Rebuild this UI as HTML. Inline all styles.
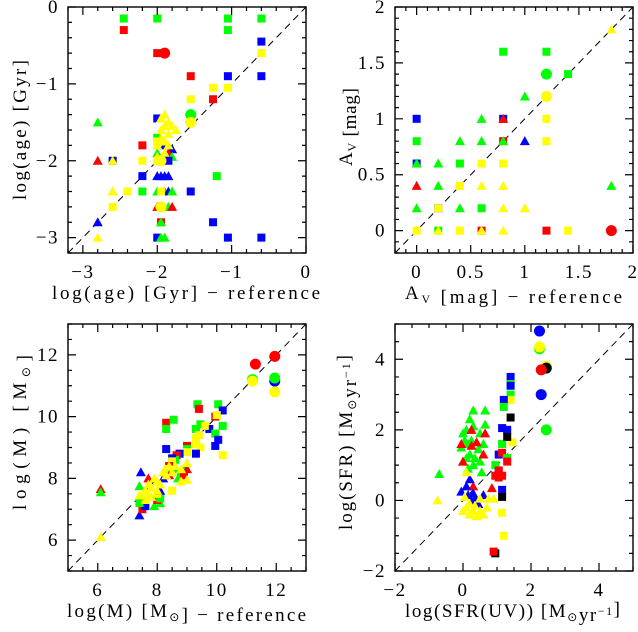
<!DOCTYPE html>
<html><head><meta charset="utf-8"><style>
body{margin:0;background:#fff}
svg text{font-family:"Liberation Serif",serif;fill:#000}
</style></head><body>
<svg id="chart" width="638" height="627" xmlns="http://www.w3.org/2000/svg"></svg>
<script>
// data: [x, y, color, shape]
const agePoints = [
[-2.45,-0.15,'g','s'],[-2.0,-0.15,'g','s'],[-1.05,-0.15,'g','s'],[-0.6,-0.15,'g','s'],
[-2.45,-0.3,'r','s'],[-1.05,-0.3,'g','s'],[-0.6,-0.45,'b','s'],[-0.6,-0.6,'y','s'],
[-2.0,-0.6,'r','s'],[-1.9,-0.6,'r','c'],[-1.55,-0.9,'r','s'],[-1.05,-0.9,'b','s'],[-0.6,-0.9,'b','s'],
[-1.25,-1.05,'y','s'],[-1.05,-1.05,'y','s'],[-1.55,-1.2,'y','s'],[-1.25,-1.2,'r','s'],
[-1.55,-1.4,'g','c'],[-1.55,-1.5,'y','c'],[-2.8,-1.5,'g','t'],
[-2.0,-1.45,'b','s'],[-2.0,-1.7,'g','s'],[-2.2,-1.8,'r','s'],
[-1.95,-1.45,'y','t'],[-1.9,-1.4,'y','t'],[-1.85,-1.5,'y','t'],[-1.9,-1.55,'y','t'],[-1.95,-1.6,'y','t'],[-1.8,-1.55,'y','t'],[-1.75,-1.6,'y','t'],[-1.85,-1.65,'y','t'],[-1.95,-1.7,'y','t'],
[-1.9,-1.8,'b','t'],[-1.8,-1.85,'b','t'],[-1.9,-1.95,'b','t'],[-1.85,-1.9,'r','t'],[-2.0,-1.9,'g','t'],
[-2.0,-1.8,'y','t'],[-1.9,-1.75,'y','t'],[-1.85,-1.8,'y','t'],[-2.0,-1.75,'y','s'],[-1.9,-1.9,'y','t'],[-2.0,-1.95,'y','t'],[-1.8,-1.95,'g','t'],
[-2.8,-2.0,'r','t'],[-2.6,-2.0,'b','s'],[-2.6,-2.0,'y','t'],[-2.2,-2.0,'y','s'],[-2.0,-2.0,'y','s'],[-1.85,-2.0,'b','s'],[-1.95,-2.0,'y','c'],
[-2.2,-2.2,'b','s'],[-2.0,-2.2,'b','t'],[-1.95,-2.2,'b','t'],[-1.9,-2.2,'b','t'],[-1.85,-2.2,'b','t'],[-1.2,-2.2,'g','s'],
[-2.6,-2.4,'g','t'],[-2.6,-2.4,'y','t'],[-2.4,-2.4,'y','s'],[-2.2,-2.4,'g','s'],[-2.0,-2.4,'g','t'],[-1.9,-2.4,'g','t'],[-1.85,-2.4,'b','t'],[-1.8,-2.4,'g','t'],[-1.95,-2.4,'y','s'],[-1.55,-2.4,'b','s'],
[-2.6,-2.6,'y','s'],[-2.0,-2.6,'r','t'],[-1.85,-2.6,'g','t'],[-1.8,-2.6,'r','t'],[-1.95,-2.6,'y','c'],
[-2.8,-2.8,'b','t'],[-1.95,-2.8,'r','s'],[-1.95,-2.8,'g','t'],[-1.25,-2.8,'b','s'],
[-2.8,-3.0,'y','t'],[-2.0,-3.0,'b','s'],[-1.95,-3.0,'g','t'],[-1.9,-3.0,'g','t'],[-1.05,-3.0,'b','s'],[-0.6,-3.0,'b','s']
];
const avPoints = [
[1.8,1.8,'y','t'],[0.8,1.6,'g','s'],[1.2,1.6,'g','s'],[1.2,1.4,'g','c'],[1.4,1.4,'g','s'],
[1.0,1.2,'g','t'],[1.2,1.2,'y','c'],
[0,1.0,'b','s'],[0.6,1.0,'g','t'],[0.8,1.0,'b','s'],[0.8,1.0,'r','t'],[1.2,1.0,'y','s'],
[0,0.8,'g','s'],[0.4,0.8,'g','t'],[0.6,0.8,'g','t'],[0.8,0.8,'r','s'],[0.8,0.8,'g','t'],[1.0,0.8,'b','t'],[1.2,0.8,'y','s'],
[0,0.6,'b','s'],[0,0.6,'g','t'],[0.2,0.6,'g','t'],[0.4,0.6,'g','s'],[0.6,0.6,'y','s'],[0.8,0.6,'y','s'],
[0,0.4,'r','t'],[0.2,0.4,'g','t'],[0.4,0.4,'y','s'],[0.6,0.4,'y','t'],[0.8,0.4,'y','t'],[1.8,0.4,'g','t'],
[0,0.2,'g','t'],[0.2,0.2,'b','s'],[0.2,0.2,'y','s'],[0.4,0.2,'g','t'],[0.6,0.2,'g','s'],[0.8,0.2,'y','t'],[1.0,0.2,'y','t'],
[0,0,'y','s'],[0.2,0,'g','s'],[0.2,0,'y','t'],[0.4,0,'y','s'],[0.6,0,'r','s'],[0.6,0,'y','t'],[0.8,0,'y','t'],[1.2,0,'r','s'],[1.4,0,'y','s'],[1.8,0,'r','c']
];
const massPoints = [
[6.1,7.65,'r','t'],[6.1,7.55,'g','t'],[6.1,6.1,'y','t'],
[7.45,8.2,'b','t'],[7.4,6.8,'b','t'],[7.4,7.75,'g','t'],[7.5,7.0,'r','s'],[7.6,7.1,'b','s'],[7.4,7.2,'g','s'],[7.7,8.0,'r','t'],[7.9,7.1,'g','t'],[8.1,7.2,'g','t'],[8.0,7.3,'r','s'],[8.1,7.35,'g','s'],
[8.3,8.95,'b','s'],[8.3,9.8,'r','s'],[8.55,9.9,'g','s'],[8.3,9.6,'g','s'],
[9.35,10.4,'g','s'],[9.4,10.25,'r','s'],[10.05,10.4,'g','s'],[10.2,10.2,'b','s'],
[9.3,9.6,'g','s'],[9.45,9.75,'g','s'],[9.75,9.6,'b','s'],[9.6,9.7,'y','s'],[9.95,10.0,'r','s'],[10.0,10.05,'y','s'],[10.2,9.7,'g','s'],
[9.95,9.45,'g','s'],[10.05,9.25,'b','s'],[9.95,9.05,'b','s'],[10.2,8.75,'y','s'],[9.45,9.0,'y','s'],[9.3,8.8,'b','s'],
[9.3,9.3,'y','s'],[9.4,9.4,'y','s'],[9.3,9.1,'y','s'],[9.0,9.05,'r','s'],[9.0,8.95,'g','s'],[9.0,8.85,'y','s'],
[8.75,8.8,'b','s'],[8.65,8.75,'r','s'],[8.6,8.6,'g','s'],[8.5,8.65,'b','s'],[8.5,8.55,'y','s'],[8.4,8.4,'r','s'],[8.35,8.3,'y','s'],
[8.8,8.1,'g','s'],[8.9,8.1,'r','s'],[8.5,7.6,'y','s'],[8.0,7.5,'y','s'],
[8.2,8.0,'b','t'],[8.6,8.3,'g','t'],[8.9,8.3,'g','t'],[9.0,8.3,'r','t'],[8.7,8.0,'g','t'],[8.4,8.1,'r','t'],[8.1,7.6,'b','t'],
[7.5,7.5,'y','t'],[7.6,7.6,'y','t'],[7.7,7.8,'y','t'],[7.8,7.7,'y','t'],[7.9,8.0,'y','t'],[8.0,7.9,'y','t'],[7.6,7.3,'y','t'],[7.8,7.4,'y','t'],[8.1,7.8,'y','t'],[8.2,8.2,'y','t'],[8.3,8.1,'y','t'],[8.5,8.2,'y','t'],[8.6,8.4,'y','t'],[8.8,8.3,'y','t'],[9.0,8.5,'y','t'],[8.8,7.9,'y','t'],[9.0,7.95,'y','t'],[7.4,7.45,'y','t'],[7.7,7.5,'y','t'],[8.0,7.6,'y','t'],[8.4,8.4,'y','t'],
[11.3,11.7,'r','c'],[11.95,11.95,'r','c'],[11.2,11.2,'g','c'],[11.2,11.15,'y','c'],[11.95,11.15,'b','c'],[11.95,11.25,'g','c'],[11.95,10.8,'y','c']
];
const sfrPoints = [
[-0.7,0.75,'g','t'],[-0.75,0.0,'y','t'],
[0.0,1.9,'g','t'],[0.1,2.0,'g','t'],[0.2,2.3,'g','t'],[0.3,2.55,'g','t'],[0.65,2.55,'g','t'],[0.65,2.15,'g','t'],[0.3,2.1,'g','t'],[0.05,1.7,'g','t'],[-0.05,1.5,'g','t'],[0.15,1.6,'g','t'],[0.2,1.3,'g','t'],[0.35,1.2,'g','t'],[0.45,1.45,'g','t'],[0.5,1.9,'g','t'],[0.6,1.6,'g','t'],[0.0,1.1,'g','t'],[0.15,0.9,'g','t'],[0.3,1.0,'g','t'],[0.5,1.1,'g','t'],[0.55,0.8,'g','t'],[0.1,1.2,'g','t'],[0.25,1.7,'g','t'],
[0.25,2.0,'r','t'],[0.65,1.9,'r','t'],[-0.05,1.6,'r','t'],[0.25,1.55,'r','t'],[0.4,1.65,'r','t'],[0.6,1.3,'r','t'],[0.0,1.1,'r','t'],[0.3,0.4,'r','t'],[0.85,0.35,'r','t'],
[-0.05,0.25,'b','t'],[0.1,0.4,'b','t'],[0.2,0.6,'b','t'],[0.3,0.2,'b','t'],[0.35,0.05,'b','t'],[0.45,-0.1,'b','t'],[0.25,-0.05,'b','t'],[0.6,0.15,'b','t'],[0.15,0.15,'b','t'],
[0.0,-0.3,'y','t'],[0.1,-0.2,'y','t'],[0.2,-0.4,'y','t'],[0.3,-0.3,'y','t'],[0.4,-0.45,'y','t'],[0.5,-0.3,'y','t'],[0.6,-0.4,'y','t'],[0.7,-0.2,'y','t'],[0.1,0.8,'y','t'],[0.05,0.1,'y','t'],[0.2,-0.1,'y','t'],[0.5,0.05,'y','t'],[0.75,0.05,'y','t'],[0.9,0.05,'y','t'],[0.35,-0.15,'y','t'],
[1.4,3.5,'b','s'],[1.4,3.3,'g','s'],[1.4,3.25,'b','s'],[1.4,3.0,'g','s'],[1.4,2.85,'y','s'],[1.2,2.85,'b','s'],[1.2,2.65,'g','s'],[1.4,2.35,'k','s'],[1.15,2.05,'b','s'],[1.3,2.0,'b','s'],[1.15,1.6,'g','s'],[1.45,1.65,'y','s'],[1.3,1.8,'k','s'],
[1.05,1.3,'b','s'],[1.15,1.35,'r','s'],[1.3,1.2,'g','s'],[1.3,1.1,'r','s'],[0.95,1.0,'g','s'],[1.05,0.8,'b','s'],[1.05,0.85,'r','s'],[0.95,0.7,'r','s'],[1.15,0.7,'r','s'],[1.05,0.65,'r','s'],[1.15,0.3,'b','s'],[1.15,0.1,'k','s'],[1.15,-0.35,'y','s'],[1.2,-1.0,'y','s'],[0.95,-1.5,'k','s'],[0.9,-1.45,'r','s'],
[2.25,4.8,'b','c'],[2.25,4.3,'g','c'],[2.25,4.35,'y','c'],[2.45,3.8,'y','c'],[2.45,3.75,'k','c'],[2.3,3.7,'r','c'],[2.3,3.0,'b','c'],[2.45,2.0,'g','c']
];
// axis tick labels
const ageTicks = [-3,-2,-1,0];
const avTicks = [0,0.5,1,1.5,2];
const massTicks = [6,8,10,12];
const sfrTicks = [-2,0,2,4];

const NS='http://www.w3.org/2000/svg';
const svg=document.getElementById('chart');
const COL={r:'#ff0000',g:'#00ff00',b:'#0000ff',y:'#ffff00',k:'#000000'};
function mk(tag,attrs,parent){const e=document.createElementNS(NS,tag);for(const k in attrs)e.setAttribute(k,attrs[k]);(parent||svg).appendChild(e);return e;}
function fmt(v){return (v<0?'\u2212':'')+Math.abs(v);}

function panel(o){
  const g=mk('g',{});
  
  
  const sx=v=>o.x0+(v-o.xmin)/(o.xmax-o.xmin)*(o.x1-o.x0);
  const sy=v=>o.y1-(v-o.ymin)/(o.ymax-o.ymin)*(o.y1-o.y0);
  const lo=Math.max(o.xmin,o.ymin), hi=Math.min(o.xmax,o.ymax);
  const d=mk('line',{x1:sx(lo),y1:sy(lo),x2:sx(hi),y2:sy(hi),stroke:'#000','stroke-width':1,'stroke-dasharray':'7,5'},g);
  
  
  const pg=mk('g',{},g);
  
  
  for(const p of o.pts){
    const cx=sx(p[0]),cy=sy(p[1]),c=COL[p[2]];let e;
    if(p[3]==='s') e=mk('rect',{x:cx-4,y:cy-4,width:8,height:8,fill:c},pg);
    else if(p[3]==='c') e=mk('circle',{cx:cx,cy:cy,r:5.5,fill:c},pg);
    else e=mk('polygon',{points:`${cx},${cy-5} ${cx-5},${cy+4} ${cx+5},${cy+4}`,fill:c},pg);
    
    
  }
  const f=mk('rect',{x:o.x0,y:o.y0,width:o.x1-o.x0,height:o.y1-o.y0,fill:'none',stroke:'#000','stroke-width':1.4},g);
  
  
  let tp='';
  const eps=1e-6;
  for(let v=Math.ceil(o.xmin/o.xmn-eps)*o.xmn; v<=o.xmax+eps; v+=o.xmn){
    const isM=Math.abs(v/o.xmj-Math.round(v/o.xmj))<1e-4, L=isM?8:4, x=sx(v);
    tp+=`M${x},${o.y1}v${-L}M${x},${o.y0}v${L}`;
  }
  for(let v=Math.ceil(o.ymin/o.ymn-eps)*o.ymn; v<=o.ymax+eps; v+=o.ymn){
    const isM=Math.abs(v/o.ymj-Math.round(v/o.ymj))<1e-4, L=isM?8:4, y=sy(v);
    tp+=`M${o.x0},${y}h${L}M${o.x1},${y}h${-L}`;
  }
  const t=mk('path',{d:tp,stroke:'#000','stroke-width':1.2,fill:'none'},g);
  
  
  for(const v of o.xt){
    const e=mk('text',{x:sx(v),y:o.y1+25,'font-size':19,'letter-spacing':1.5,'text-anchor':'middle'},g);e.textContent=fmt(v);
    
    
  }
  for(const v of o.yt){
    const e=mk('text',{x:o.x0-9,y:sy(v)+6,'font-size':19,'letter-spacing':1.5,'text-anchor':'end'},g);e.textContent=fmt(v);
    
    
  }
  const xt=mk('text',{x:o.xtx0,y:o.y1+46,'font-size':19,textLength:o.xtw,lengthAdjust:'spacing'},g);xt.innerHTML=o.xl;
  
  
  const yt=mk('text',{x:0,y:0,'font-size':19,textLength:o.ytw,lengthAdjust:'spacing',transform:`translate(${o.ytx} ${o.yty0}) rotate(-90)`},g);yt.innerHTML=o.yl;
  
  
}
const sub='<tspan font-size="12" dy="4">V</tspan><tspan dy="-4"></tspan>';
const sun='<tspan font-size="12" dy="4">\u2299</tspan><tspan dy="-4"></tspan>';
const inv='<tspan font-size="12" dy="-6">\u22121</tspan><tspan dy="6"></tspan>';
panel({name:'age-panel',x0:68,x1:306,y0:7,y1:253,xmin:-3.2,xmax:0,ymin:-3.2,ymax:0,xmj:1,xmn:0.2,ymj:1,ymn:0.2,xt:ageTicks,yt:ageTicks,pts:agePoints,
  xl:'log(age) [Gyr] \u2212 reference',xtx0:52,xtw:268,yl:'log(age) [Gyr]',ytx:26,yty0:200,ytw:140});
panel({name:'extinction-panel',x0:395,x1:633,y0:7,y1:253,xmin:-0.2,xmax:2,ymin:-0.2,ymax:2,xmj:0.5,xmn:0.1,ymj:0.5,ymn:0.1,xt:avTicks,yt:avTicks,pts:avPoints,
  xl:'A'+sub+' [mag] \u2212 reference',xtx0:405,xtw:217,yl:'A'+sub+' [mag]',ytx:352,yty0:166,ytw:78});
panel({name:'mass-panel',x0:68,x1:306,y0:324,y1:571,xmin:5,xmax:13,ymin:5,ymax:13,xmj:2,xmn:0.5,ymj:2,ymn:0.5,xt:massTicks,yt:massTicks,pts:massPoints,
  xl:'log(M) [M'+sun+'] \u2212 reference',xtx0:67,xtw:239,yl:'log(M) [M'+sun+']',ytx:26,yty0:510,ytw:155});
panel({name:'sfr-panel',x0:395,x1:633,y0:324,y1:571,xmin:-2,xmax:5,ymin:-2,ymax:5,xmj:2,xmn:0.5,ymj:2,ymn:0.5,xt:sfrTicks,yt:sfrTicks,pts:sfrPoints,
  xl:'log(SFR(UV)) [M'+sun+'yr'+inv+']',xtx0:405,xtw:215,yl:'log(SFR) [M'+sun+'yr'+inv+']',ytx:352,yty0:530,ytw:175});
</script>
</body></html>
